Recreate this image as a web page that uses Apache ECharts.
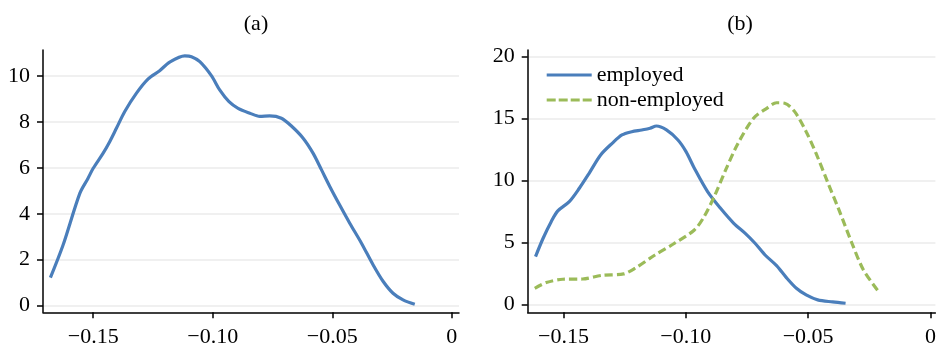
<!DOCTYPE html>
<html>
<head>
<meta charset="utf-8">
<script src="https://cdn.jsdelivr.net/npm/echarts@6/dist/echarts.min.js"></script>
<style>html,body{margin:0;padding:0;background:#fff}#c{width:939px;height:349px}</style>
</head>
<body>
<div id="c"></div>
<script>
// Panel (a)
const aX = [-0.1679,-0.1626,-0.1556,-0.1522,-0.1500,-0.1459,-0.1431,-0.1403,-0.1368,-0.1319,-0.1270,-0.1222,-0.1180,-0.1117,-0.1089,-0.1054,-0.1005,-0.0971,-0.0932,-0.0894,-0.0845,-0.0803,-0.0762,-0.0713,-0.0671,-0.0622,-0.0580,-0.0545,-0.0510,-0.0469,-0.0427,-0.0378,-0.0329,-0.0287,-0.0246,-0.0204,-0.0155];
const aY = [1.22,2.64,4.89,5.54,5.98,6.63,7.14,7.72,8.45,9.25,9.87,10.23,10.60,10.87,10.84,10.62,10.00,9.39,8.88,8.59,8.38,8.24,8.26,8.16,7.82,7.29,6.63,5.91,5.18,4.38,3.59,2.72,1.77,1.05,0.54,0.25,0.06];
// Panel (b)
const empX = [-0.1614,-0.1583,-0.1550,-0.1523,-0.1476,-0.1435,-0.1395,-0.1348,-0.1301,-0.1261,-0.1221,-0.1180,-0.1146,-0.1120,-0.1079,-0.1032,-0.0999,-0.0965,-0.0911,-0.0858,-0.0804,-0.0757,-0.0717,-0.0676,-0.0629,-0.0589,-0.0548,-0.0508,-0.0461,-0.0400,-0.0347];
const empY = [3.85,5.33,6.67,7.54,8.29,9.37,10.58,12.06,13.00,13.68,13.94,14.08,14.22,14.40,14.08,13.27,12.33,10.99,9.10,7.75,6.54,5.73,4.93,3.98,3.12,2.15,1.29,0.75,0.35,0.19,0.08];
const nonX = [-0.1617,-0.1570,-0.1503,-0.1422,-0.1342,-0.1254,-0.1207,-0.1126,-0.1046,-0.0965,-0.0925,-0.0884,-0.0837,-0.0790,-0.0723,-0.0669,-0.0629,-0.0596,-0.0555,-0.0508,-0.0468,-0.0421,-0.0374,-0.0321,-0.0274,-0.0212];
const nonY = [1.29,1.75,2.02,2.04,2.34,2.45,2.91,3.98,4.93,6.00,7.08,8.69,10.85,12.87,15.03,15.83,16.28,16.24,15.56,13.94,12.20,9.90,7.62,4.93,2.77,1.02];
const xTicks = [-0.15,-0.10,-0.05,0];
const aYTicks = [0,2,4,6,8,10];
const bYTicks = [0,5,10,15,20];
const titles = ['(a)','(b)'];
const seriesNames = ['employed','non-employed'];

const pairs = (xs, ys) => xs.map((x, i) => [x, ys[i]]);
const FONT = "'Liberation Serif','Times New Roman',serif";
const BLUE = '#4a7ebb', GREEN = '#9bbb59';
const fmtX = v => v === 0 ? '0' : (v < 0 ? '\u2212' : '') + Math.abs(v).toFixed(2);

function xAxis(idx, min, max) {
  return {
    type: 'value', gridIndex: idx, min: min, max: max,
    axisLine: {show: true, onZero: false, lineStyle: {color: '#000', width: 1.5}},
    axisTick: {show: true, length: 6, lineStyle: {color: '#000', width: 1.5}, customValues: xTicks},
    axisLabel: {customValues: xTicks, formatter: fmtX, color: '#000', fontFamily: FONT, fontSize: 22, margin: 14},
    splitLine: {show: false}
  };
}
function yAxis(idx, min, max, ticks) {
  return {
    type: 'value', gridIndex: idx, min: min, max: max,
    axisLine: {show: true, onZero: false, lineStyle: {color: '#000', width: 1.5}},
    axisTick: {show: true, length: 6, lineStyle: {color: '#000', width: 1.5}, customValues: ticks},
    axisLabel: {customValues: ticks, color: '#000', fontFamily: FONT, fontSize: 22, margin: 13},
    splitLine: {show: true, lineStyle: {color: '#ebebeb', width: 1.5}}
  };
}

const chart = echarts.init(document.getElementById('c'), null, {renderer: 'canvas'});
chart.setOption({
  animation: false,
  backgroundColor: '#fff',
  title: [
    {text: titles[0], left: 251, top: 8, textAlign: 'center', textStyle: {fontFamily: FONT, fontSize: 22, fontWeight: 'normal', color: '#000'}},
    {text: titles[1], left: 735, top: 8, textAlign: 'center', textStyle: {fontFamily: FONT, fontSize: 22, fontWeight: 'normal', color: '#000'}}
  ],
  grid: [
    {left: 43, top: 50, width: 416, height: 262.3},
    {left: 527.7, top: 50, width: 413.3, height: 262.3}
  ],
  xAxis: [xAxis(0, -0.171, 0.003), xAxis(1, -0.1646, 0.002)],
  yAxis: [yAxis(0, -0.29, 11.13, aYTicks), yAxis(1, -0.65, 20.54, bYTicks)],
  legend: {
    orient: 'vertical', left: 546.7, top: 64, padding: 0, itemWidth: 45, itemHeight: 3, itemGap: 3,
    data: [
      {name: seriesNames[0], icon: 'rect'},
      {name: seriesNames[1], icon: 'path://M0,0h9v3h-9z M12,0h9v3h-9z M24,0h9v3h-9z M36,0h9v3h-9z'}
    ],
    textStyle: {fontFamily: FONT, fontSize: 22, color: '#000', lineHeight: 22}
  },
  series: [
    {type: 'line', name: 'a', xAxisIndex: 0, yAxisIndex: 0, data: pairs(aX, aY), showSymbol: false, symbol: 'none', smooth: 0.3,
     lineStyle: {color: BLUE, width: 3.2}, itemStyle: {color: BLUE}},
    {type: 'line', name: seriesNames[0], xAxisIndex: 1, yAxisIndex: 1, data: pairs(empX, empY), symbol: 'none', smooth: 0.3,
     lineStyle: {color: BLUE, width: 3.2}, itemStyle: {color: BLUE}},
    {type: 'line', name: seriesNames[1], xAxisIndex: 1, yAxisIndex: 1, data: pairs(nonX, nonY), symbol: 'none', smooth: 0.3,
     lineStyle: {color: GREEN, width: 3.2, type: [8, 4]}, itemStyle: {color: GREEN}}
  ]
});
</script>
</body>
</html>
